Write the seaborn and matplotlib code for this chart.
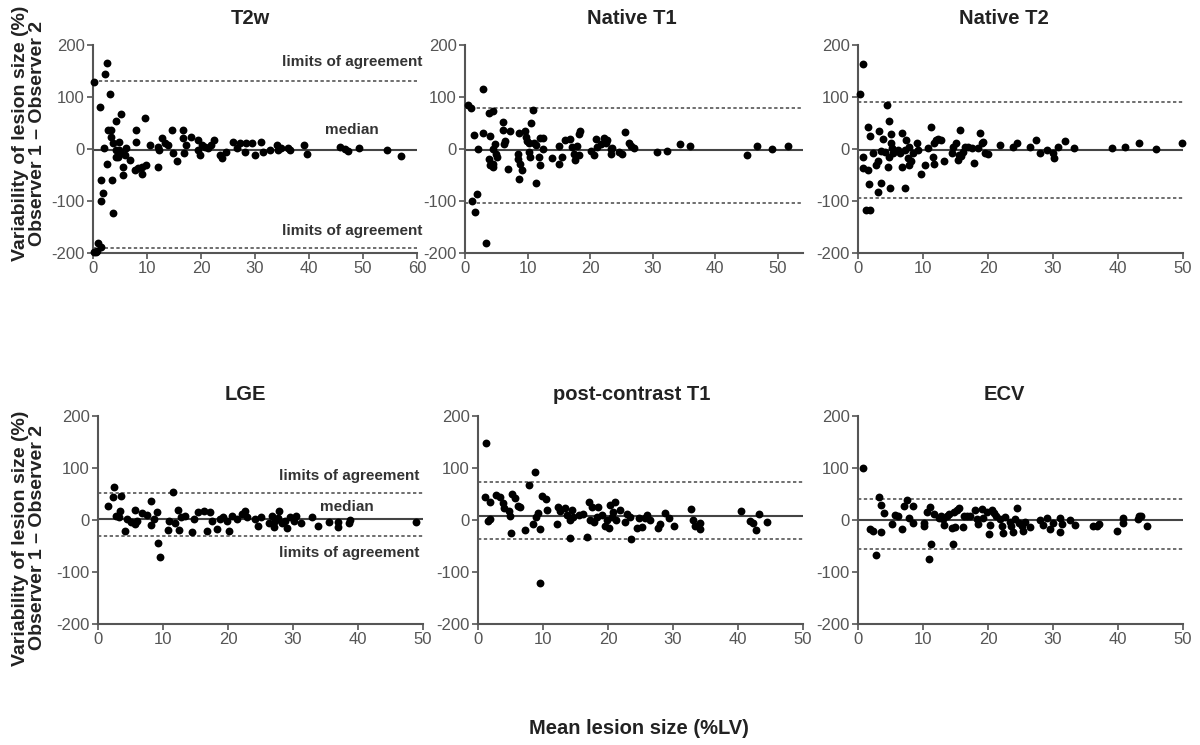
import numpy as np
import pandas as pd
import matplotlib
matplotlib.use("Agg")
import matplotlib.pyplot as plt
import seaborn as sns

# ---------------- data ----------------
titles = ["T2w", "Native T1", "Native T2", "LGE", "post-contrast T1", "ECV"]

t2w_x = [0.2, 0.1, 0.5, 0.8, 1.0, 1.5, 1.3, 2.2, 2.5, 3.1, 1.4, 1.9, 1.4, 2.0, 2.5, 2.8, 3.3, 3.4, 3.7,
         3.5, 3.7, 4.3, 4.3, 4.6, 4.9, 5.1, 5.6, 5.6, 5.9, 6.2, 6.8, 7.7, 8.3, 9.1, 9.9, 8.0, 8.0,
         9.1, 9.6, 10.5, 12.0, 12.0, 12.3, 12.7, 13.3, 13.9, 14.7, 14.8, 15.5, 16.7, 16.7, 16.9,
         17.3, 18.2, 19.5, 19.5, 19.8, 20.1, 20.7, 21.3, 21.9, 22.4, 23.5, 23.8, 24.7, 26.0, 26.6,
         27.2, 28.1, 28.4, 29.4, 30.0, 31.2, 31.5, 32.8, 34.0, 34.3, 34.9, 36.2, 36.5, 39.0, 39.6,
         45.8, 46.7, 47.3, 49.2, 54.4, 57.0, 4.3, 5.2, 4.9]
t2w_y = [129, -198, -198, -196, -181, -188, 80, 145, 165, 106, -60, -85, -100, 1, -28, 37, 37, 24, 11,
         -60, -124, 54, -2, -15, 14, 67, -34, -50, -12, 1, -21, -40, -37, -34, -31, 37, 14,
         -48, 59, 8, -34, 4, -2, 21, 11, 8, 37, -8, -24, 37, 21, -8,
         8, 24, 17, -2, -12, 8, 4, 1, 8, 17, -12, -18, -5, 14, 1,
         11, -5, 11, 11, -12, 14, -5, -2, 8, -2, 1, 1, -2, 8, -10,
         4, 0, -3, 1, -2, -13, -15, -8, -2]

nt1_x = [0.5, 0.9, 2.8, 1.5, 2.0, 2.8, 1.1, 1.6, 1.9, 3.3, 3.9, 4.5, 4.0, 3.9, 4.0, 4.5, 4.5, 4.8,
         5.1, 5.0, 4.4, 6.1, 6.1, 6.4, 6.3, 7.2, 6.9, 8.6, 8.4, 8.4, 8.8, 8.7, 9.1, 9.6, 9.8, 9.9,
         10.2, 10.3, 10.4, 10.5, 10.9, 11.0, 11.4, 11.4, 12.0, 12.5, 11.9, 12.0, 12.5, 13.9, 15.0,
         15.0, 15.5, 16.0, 16.7, 17.1, 17.4, 17.5, 17.9, 18.2, 18.3, 18.2, 20.1, 20.6, 20.9, 21.1,
         21.7, 22.2, 22.5, 22.7, 23.3, 23.3, 23.5, 24.6, 25.1, 25.5, 26.2, 26.5, 27.0, 30.6, 32.2,
         34.4, 36.0, 45.1, 46.7, 49.0, 51.6]
nt1_y = [85, 78, 116, 26, 0, 31, -100, -121, -86, -180, 70, 73, 25, -19, -31, -34, 0, 9,
         -15, -9, -28, 52, 37, 15, 9, 34, -38, 31, -9, -19, -28, -57, -40, 35, 24, 16,
         12, -6, -15, 50, 75, 12, -66, 7, 22, 22, -15, -30, 0, -17, 5,
         -28, -15, 18, 19, 3, -9, -22, 6, 29, 35, -11, -3, -12, 19, 3,
         9, 21, 12, 18, 0, -9, 1, -5, -9, 32, 12, 6, 2, -5, -4,
         9, 5, -11, 6, 0, 5]

nt2_x = [0.3, 0.7, 0.8, 0.7, 1.6, 1.9, 1.6, 1.7, 1.3, 1.9, 2.3, 2.8, 3.1, 3.5, 3.1, 3.3, 3.8, 3.6,
         4.1, 4.5, 4.8, 5.0, 5.1, 4.8, 4.6, 4.9, 5.3, 5.4, 6.2, 6.4, 6.7, 6.8, 7.4, 7.2, 7.2, 7.7,
         7.9, 8.2, 7.9, 8.5, 9.0, 9.2, 9.7, 10.3, 10.8, 11.2, 11.5, 11.7, 11.7, 12.0, 12.3, 12.8,
         13.3, 14.4, 14.6, 15.1, 15.4, 15.5, 15.7, 15.9, 16.2, 16.4, 16.9, 17.6, 17.8, 18.5, 18.7,
         19.0, 19.2, 19.6, 20.0, 21.9, 23.9, 24.4, 26.4, 27.4, 28.0, 29.0, 30.0, 30.1, 30.8, 31.8,
         33.3, 39.0, 41.0, 43.2, 45.9, 49.9]
nt2_y = [105, 164, -15, -36, 43, 25, -41, -67, -118, -118, -8, -31, -83, -66, -24, 34, 20, -4,
         -5, 84, 54, 29, 11, -15, -34, -75, 1, -8, -2, -8, -34, 30, 17, -2, -75, -18,
         -31, -24, 3, -7, 11, -1, -48, -31, 1, 43, -16, -28, 11, 17, 20, 17,
         -24, -8, 4, 11, -21, -11, 36, -13, -5, 4, 3, 1, -26, 1, 30,
         11, 14, -7, -10, 8, 3, 11, 4, 17, -7, -1, -8, -18, 4, 16,
         1, 1, 3, 11, 0, 11]

lge_x = [1.6, 2.4, 2.3, 2.7, 3.2, 3.6, 3.4, 4.1, 4.4, 5.0, 5.7, 5.7, 6.0, 6.7, 7.5, 8.2, 8.1, 8.6,
         9.1, 9.2, 9.6, 10.8, 10.9, 11.5, 11.9, 12.3, 12.4, 12.7, 13.4, 14.5, 14.7, 15.4, 16.3, 16.8,
         17.2, 17.5, 18.3, 18.8, 19.3, 19.8, 20.2, 20.6, 21.4, 22.2, 22.6, 22.9, 24.1, 24.6, 25.0,
         26.3, 26.7, 27.0, 27.3, 27.7, 27.9, 28.3, 28.8, 29.1, 29.6, 30.1, 30.4, 31.3, 32.9, 33.9,
         35.6, 36.9, 36.9, 38.6, 38.8, 48.9]
lge_y = [26, 63, 44, 8, 5, 46, 17, -22, 2, -3, -8, 19, -1, 13, 10, 37, -10, 1,
         15, -45, -72, -19, -1, 54, -5, 19, -19, 5, 8, -23, 2, 16, 18, -21,
         15, -1, -17, 2, 5, -1, -21, 8, 2, 12, 18, 5, 2, -11, 5,
         -5, 8, -13, -1, 4, 17, -5, -1, -15, 5, -1, 8, -6, 5, -11,
         -3, -3, -14, -6, 0, -3]

pct1_x = [1.2, 1.0, 1.8, 1.8, 1.5, 2.8, 3.4, 3.9, 4.0, 4.7, 4.9, 5.1, 5.2, 5.7, 6.1, 6.5, 7.2, 7.9,
          8.8, 8.5, 8.9, 9.6, 9.5, 9.3, 9.8, 10.5, 10.6, 12.2, 12.3, 12.6, 13.4, 13.7, 14.2, 14.1,
          14.4, 14.6, 15.5, 16.2, 16.7, 17.0, 17.2, 17.5, 17.8, 18.5, 18.3, 19.0, 19.5, 19.8, 20.1,
          20.3, 20.6, 20.8, 21.1, 21.3, 21.9, 22.6, 22.9, 23.4, 23.6, 24.4, 24.7, 25.2, 25.7, 26.0,
          26.5, 27.7, 28.0, 28.8, 29.4, 30.1, 32.8, 33.1, 33.4, 34.1, 34.2, 40.4, 41.8, 42.3, 42.8,
          43.3, 44.4]
pct1_y = [148, 44, 35, 2, -2, 48, 44, 32, 23, 18, 8, -25, 50, 42, 27, 25, -19, 68,
          92, -8, 6, -17, -121, 13, 46, 41, 19, -8, 25, 18, 23, 10, 0, -35,
          19, 6, 10, 11, -32, 34, 0, 25, -3, 25, 6, 10, -12, 0, -16,
          29, 6, 16, 35, 0, 19, -3, 11, 6, -37, -16, 3, -13, 3, 10,
          0, -16, -8, 14, 3, -12, 21, 0, -12, -18, -5, 18, -2, -6, -19,
          11, -3]

ecv_x = [0.7, 1.9, 2.3, 2.8, 3.3, 3.5, 3.5, 4.0, 5.2, 5.7, 6.1, 6.8, 7.0, 7.6, 7.8, 8.4, 8.5,
         10.1, 10.2, 10.6, 10.9, 11.1, 11.2, 11.7, 12.4, 12.8, 13.0, 13.2, 13.7, 14.0, 14.4, 14.6,
         14.8, 14.9, 15.2, 15.6, 16.1, 16.3, 16.7, 17.2, 18.0, 18.3, 18.5, 19.0, 19.3, 19.8, 20.1,
         20.3, 20.6, 20.9, 21.3, 21.9, 22.1, 22.3, 22.6, 23.4, 23.6, 23.9, 24.2, 24.5, 24.7, 25.2,
         25.4, 25.7, 26.5, 28.0, 28.5, 29.0, 29.5, 30.0, 31.0, 31.1, 31.4, 32.6, 33.4, 36.2, 36.7,
         37.1, 39.8, 40.8, 40.8, 43.1, 43.3, 43.6, 44.5]
ecv_y = [100, -17, -21, -68, 44, 29, -24, 13, -8, 10, 8, -17, 26, 39, 4, 26, -5,
         -6, -12, 16, -75, 25, -46, 12, 3, 8, 1, -10, 7, 12, -16, -46,
         15, -14, 20, 23, -14, 8, 7, 8, 20, 2, -8, 21, 3, 15, -27,
         -10, 20, 13, 8, 2, -12, -25, 5, -3, -11, -24, 2, 23, -6, -11,
         -21, -3, -14, 0, -10, 3, -17, -5, 3, -24, -8, 0, -10, -12, -12,
         -8, -21, 3, -5, 1, 7, 8, -11]

# median, upper and lower limits of agreement per panel
medians = [-2, -2, -2, 2, 7, 0]
loa_upper = [131, 79, 90, 51, 74, 40]
loa_lower = [-191, -104, -95, -30, -36, -55]
x_max = [60, 54, 50, 50, 50, 50]
y_ticks = [-200, -100, 0, 100, 200]

panels_x = [t2w_x, nt1_x, nt2_x, lge_x, pct1_x, ecv_x]
panels_y = [t2w_y, nt1_y, nt2_y, lge_y, pct1_y, ecv_y]

# ---------------- style ----------------
sns.set_theme(style="ticks")
plt.rcParams['font.family'] = ['Liberation Sans', 'DejaVu Sans']
plt.rcParams['axes.unicode_minus'] = False

fig = plt.figure(figsize=(12, 7.45), dpi=100)
W, H = 1200, 745

# axes boxes in pixels: left, right, top, bottom
boxes = [(93, 417, 45, 253), (465, 803, 45, 253), (858, 1183, 45, 253),
         (98, 423, 416, 624), (478, 803, 416, 624), (858, 1183, 416, 624)]
title_pos = [(250, 18), (632, 18), (1004, 18), (245, 395), (632, 395), (1004, 395)]

spine_col = "#555555"
for i in range(6):
    l, r, t, b = boxes[i]
    ax = fig.add_axes([l / W, 1 - b / H, (r - l) / W, (b - t) / H])
    df = pd.DataFrame({"x": panels_x[i], "y": panels_y[i]})
    sns.scatterplot(data=df, x="x", y="y", ax=ax, color="black", s=32,
                    edgecolor="black", linewidth=0, clip_on=False, zorder=3)
    ax.axhline(medians[i], color="#444444", lw=1.5, zorder=2)
    ax.axhline(loa_upper[i], color="#555555", lw=1.2, ls=(0, (2, 1.5)), zorder=2)
    ax.axhline(loa_lower[i], color="#555555", lw=1.2, ls=(0, (2, 1.5)), zorder=2)
    ax.set_xlim(0, x_max[i])
    ax.set_ylim(-200, 200)
    ax.set_xticks(np.arange(0, x_max[i] + 1, 10))
    ax.set_yticks(y_ticks)
    ax.set_xlabel("")
    ax.set_ylabel("")
    sns.despine(ax=ax)
    for sp in ["left", "bottom"]:
        ax.spines[sp].set_color(spine_col)
        ax.spines[sp].set_linewidth(1.5)
    ax.tick_params(axis="both", labelsize=12, labelcolor="#555555", color=spine_col,
                   length=4, width=1.2, pad=2)
    fig.text(title_pos[i][0] / W, 1 - title_pos[i][1] / H, titles[i], ha="center",
             va="center", fontsize=14.5, fontweight="bold", color="#222222")

    ann = dict(fontsize=11, fontweight="bold", color="#333333", clip_on=False)
    if i == 0:
        ax.text(61, 167, "limits of agreement", ha="right", va="center", **ann)
        ax.text(48, 37, "median", ha="center", va="center", **ann)
        ax.text(61, -158, "limits of agreement", ha="right", va="center", **ann)
    if i == 3:
        ax.text(49.5, 85, "limits of agreement", ha="right", va="center", **ann)
        ax.text(38.3, 25, "median", ha="center", va="center", **ann)
        ax.text(49.5, -64, "limits of agreement", ha="right", va="center", **ann)

ylab = "Variability of lesion size (%)\nObserver 1 \u2013 Observer 2"
fig.text(29 / W, 1 - 133 / H, ylab, rotation=90, ha="center", va="center",
         fontsize=14, fontweight="bold", color="#222222", linespacing=1.05)
fig.text(29 / W, 1 - 538 / H, ylab, rotation=90, ha="center", va="center",
         fontsize=14, fontweight="bold", color="#222222", linespacing=1.05)
fig.text(639 / W, 1 - 728 / H, "Mean lesion size (%LV)", ha="center", va="center",
         fontsize=14.5, fontweight="bold", color="#222222")

fig.savefig("out.png", dpi=100)
